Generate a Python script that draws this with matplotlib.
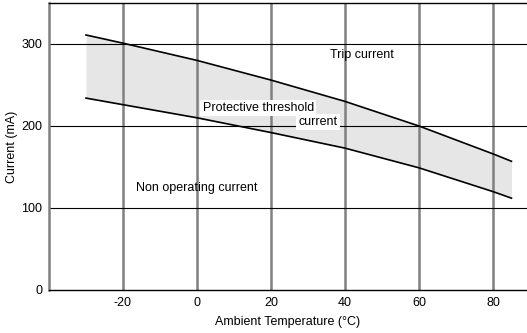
import matplotlib.pyplot as plt

plt.rcParams['font.family'] = ['Liberation Sans', 'DejaVu Sans']
plt.rcParams['axes.unicode_minus'] = False

# Temperature points (°C) and current (mA)
temp = [-30, -20, 0, 20, 40, 60, 80, 85]
trip = [311, 301, 280, 256, 230, 200, 166, 157]
non_op = [234, 226, 210, 192, 173, 149, 120, 112]

xticks = [-20, 0, 20, 40, 60, 80]
yticks = [0, 100, 200, 300]

fig = plt.figure(figsize=(5.27, 3.33), dpi=100)
ax = fig.add_axes([49/527, 43/333, 1 - 49/527, 287/333])

ax.fill_between(temp, non_op, trip, color='#e6e6e6', lw=0, zorder=1)
ax.plot(temp, trip, color='black', lw=1.2, zorder=3)
ax.plot(temp, non_op, color='black', lw=1.2, zorder=3)

for x in xticks:
    ax.axvline(x, color='#808080', lw=1.8, zorder=2)
for y in yticks[1:]:
    ax.axhline(y, color='black', lw=0.8, zorder=2)

ax.set_xlim(-40, 89.2)
ax.set_ylim(0, 350)
ax.set_xticks(xticks)
ax.set_yticks(yticks)
ax.tick_params(length=0, labelsize=9, pad=5)
ax.spines['right'].set_visible(False)
for s in ['top', 'left', 'bottom']:
    ax.spines[s].set_linewidth(1.0)
ax.spines['left'].set_color('#808080')
ax.spines['left'].set_linewidth(1.8)

ax.set_xlabel('Ambient Temperature (°C)', fontsize=9, labelpad=5)
ax.set_ylabel('Current (mA)', fontsize=9, labelpad=2)

box = dict(facecolor='white', edgecolor='none', pad=1.5)
ax.text(44.5, 287, 'Trip current', fontsize=9, ha='center', va='center', zorder=4)
ax.text(1.5, 222, 'Protective threshold', fontsize=9, ha='left', va='center', bbox=box, zorder=4)
ax.text(38, 205, 'current', fontsize=9, ha='right', va='center', bbox=box, zorder=4)
ax.text(0, 124, 'Non operating current', fontsize=9, ha='center', va='center', zorder=4)

fig.savefig('out.png', dpi=100)
